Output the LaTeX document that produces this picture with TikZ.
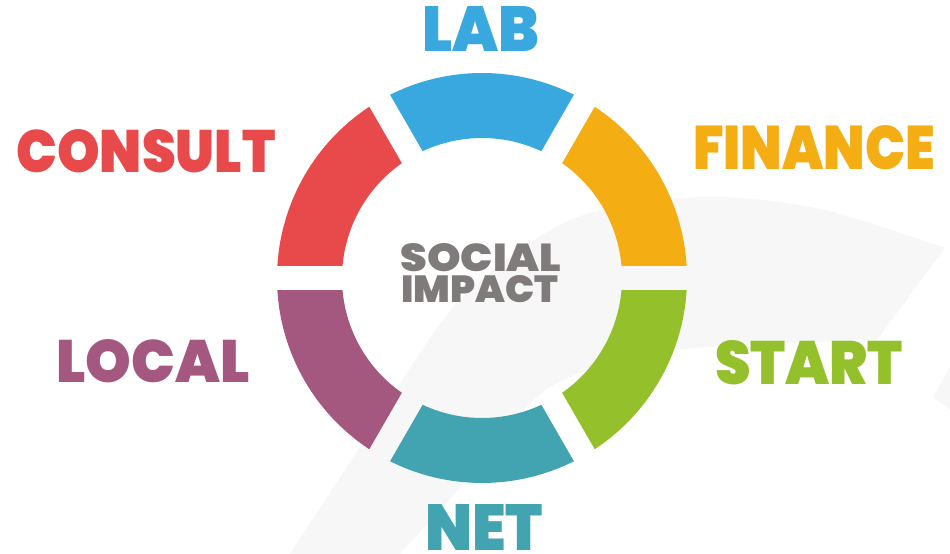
\documentclass[tikz,border=0pt]{standalone}
\usepackage{fontspec}
\usepackage{graphicx}
\IfFontExistsTF{Poppins Black}{\newfontfamily\heavyfont{Poppins Black}}{\newfontfamily\heavyfont{Lato Black}}
\definecolor{labblue}{HTML}{38A8DF}
\definecolor{finorange}{HTML}{F5AD14}
\definecolor{startgreen}{HTML}{93C02B}
\definecolor{netteal}{HTML}{43A4B1}
\definecolor{localplum}{HTML}{A4587F}
\definecolor{consultred}{HTML}{E84A4B}
\definecolor{impactgrey}{HTML}{7F7B7B}
\newlength\px
\setlength\px{0.02cm}
\newcommand\fitword[3]{\resizebox{#1\px}{#2\px}{#3}}

\begin{document}
\begin{tikzpicture}[x=0.02cm,y=0.02cm,
  seg/.style={fill=#1},
  lbl/.style={anchor=base,inner sep=0pt,text=#1,font=\heavyfont\fontsize{36}{36}\selectfont},
  core/.style={anchor=base,inner sep=0pt,text=impactgrey,font=\heavyfont\fontsize{23}{23}\selectfont}]
  \useasboundingbox (0,0) rectangle (950,554);
  % faint swoosh behind the ring
  \fill[black!3] plot[smooth] coordinates {(290,0) (360,107) (457,251) (570,334) (700,357) (820,345) (945,306)}
    -- plot[smooth] coordinates {(877,214) (677,204) (550,167) (467,74) (400,0)} -- cycle;
  \fill[black!3] (950,187) -- (933,157) -- (950,144) -- cycle;
  \begin{scope}[shift={(482,276)}]
    \foreach \a/\col in {90/labblue,30/finorange,-30/startgreen,-90/netteal,-150/localplum,150/consultred}
      \fill[seg=\col] (\a-26.64:205) arc[start angle=\a-26.64,end angle=\a+26.64,radius=205]
        -- (\a+25.08:140) arc[start angle=\a+25.08,end angle=\a-25.08,radius=140] -- cycle;
  \end{scope}
  \node[lbl=labblue] (lab) at (481,502) {\fitword{117}{45}{LAB}};
  \node[lbl=finorange] (finance) at (814,384) {\fitword{242}{44}{FINANCE}};
  \node[lbl=startgreen] (start) at (809,169) {\fitword{188}{44}{START}};
  \node[lbl=netteal] (net) at (484,3) {\fitword{118}{46}{NET}};
  \node[lbl=localplum] (local) at (153,171) {\fitword{193}{43}{LOCAL}};
  \node[lbl=consultred] (consult) at (146,381) {\fitword{259}{43}{CONSULT}};
  \node[core] (social) at (481,282) {\fitword{161}{28}{SOCIAL}};
  \node[core] (impact) at (480,251) {\fitword{157}{27}{IMPACT}};
\end{tikzpicture}
\end{document}
